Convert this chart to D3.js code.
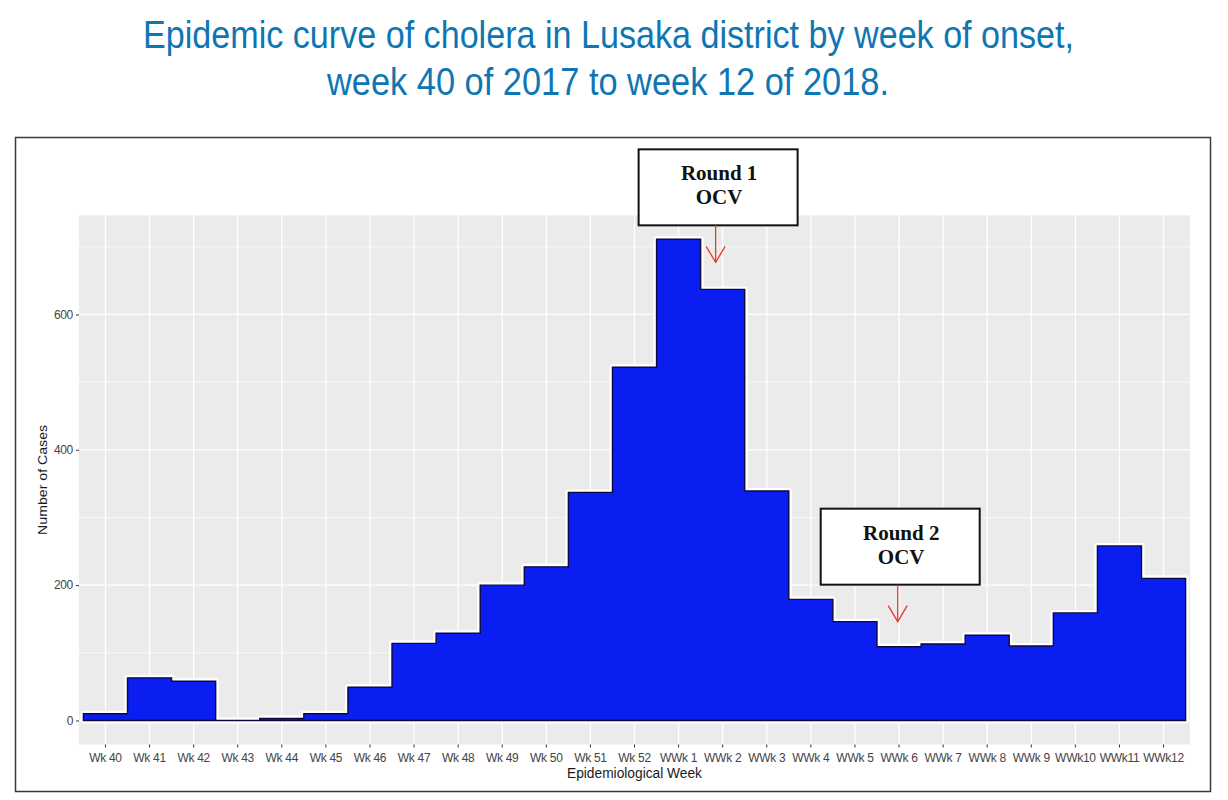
<!DOCTYPE html>
<html>
<head>
<meta charset="utf-8">
<script src="https://cdn.jsdelivr.net/npm/d3@7/dist/d3.min.js"></script>
<style>
  html, body { margin: 0; padding: 0; background: #ffffff; }
  svg { display: block; }
</style>
</head>
<body>
<svg id="chart" width="1228" height="800"></svg>
<script>
// ---------------- DATA ----------------
const titleLines = [
  "Epidemic curve of cholera in Lusaka district by week of onset,",
  "week 40 of 2017 to week 12 of 2018."
];
const weeks = [
  "Wk 40","Wk 41","Wk 42","Wk 43","Wk 44","Wk 45","Wk 46","Wk 47","Wk 48",
  "Wk 49","Wk 50","Wk 51","Wk 52",
  "WWk 1","WWk 2","WWk 3","WWk 4","WWk 5","WWk 6","WWk 7","WWk 8","WWk 9",
  "WWk10","WWk11","WWk12"
];
const cases = [
  10, 63, 58, 0, 3, 10, 49, 114, 129,
  200, 227, 337, 522,
  711, 637, 339, 179, 146, 109, 113, 126, 110,
  159, 258, 210
];
const yTicks = [0, 200, 400, 600];
const yMinorTicks = [100, 300, 500, 700];
const xAxisTitle = "Epidemiological Week";
const yAxisTitle = "Number of Cases";
// annotations: label lines, week position (fractional index), arrow tip value
const annoLabels = [["Round 1", "OCV"], ["Round 2", "OCV"]];
const annoWeekPos = [13.84, 17.97];
const annoTipValue = [677, 146];

// ---------------- LAYOUT ----------------
const svg = d3.select("#chart");
const panel = { left: 79, right: 1190, top: 215.3, bottom: 744.5 };

// title
const titleColor = "#0e76b3";
const titleFont = "'Liberation Sans', Arial, sans-serif";
const titleSpecs = [ { x: 608.5, y: 48, w: 931 }, { x: 608, y: 95, w: 562 } ];
titleLines.forEach((t, i) => {
  svg.append("text")
    .attr("x", titleSpecs[i].x).attr("y", titleSpecs[i].y)
    .attr("text-anchor", "middle")
    .attr("font-family", titleFont)
    .attr("font-size", 39)
    .attr("fill", titleColor)
    .attr("textLength", titleSpecs[i].w)
    .attr("lengthAdjust", "spacingAndGlyphs")
    .text(t);
});

// outer frame
svg.append("rect")
  .attr("x", 15.5).attr("y", 137.5)
  .attr("width", 1195).attr("height", 654)
  .attr("fill", "#ffffff")
  .attr("stroke", "#3a3a3a").attr("stroke-width", 1.5);

// scales
const x = d3.scaleBand()
  .domain(weeks)
  .range([panel.left, panel.right])
  .paddingInner(0)
  .paddingOuter(0.1);
const xPos = i => panel.left + (0.6 + i) * x.step(); // fractional category center
const y = d3.scaleLinear()
  .domain([-35.5, 746.5])
  .range([panel.bottom, panel.top]);

// panel background
svg.append("rect")
  .attr("x", panel.left).attr("y", panel.top)
  .attr("width", panel.right - panel.left)
  .attr("height", panel.bottom - panel.top)
  .attr("fill", "#ebebeb");

// grid lines
const grid = svg.append("g");
grid.selectAll("line.minor").data(yMinorTicks).enter().append("line")
  .attr("x1", panel.left).attr("x2", panel.right)
  .attr("y1", d => y(d)).attr("y2", d => y(d))
  .attr("stroke", "#ffffff").attr("stroke-width", 0.7);
grid.selectAll("line.majory").data(yTicks).enter().append("line")
  .attr("x1", panel.left).attr("x2", panel.right)
  .attr("y1", d => y(d)).attr("y2", d => y(d))
  .attr("stroke", "#ffffff").attr("stroke-width", 1.3);
grid.selectAll("line.majorx").data(weeks).enter().append("line")
  .attr("x1", d => x(d) + x.bandwidth() / 2).attr("x2", d => x(d) + x.bandwidth() / 2)
  .attr("y1", panel.top).attr("y2", panel.bottom)
  .attr("stroke", "#ffffff").attr("stroke-width", 1.3);

// epidemic curve as a single stepped area (bars merged, outline only on the envelope)
const stepPts = [];
weeks.forEach((w, i) => {
  stepPts.push({ px: x(w), v: cases[i] });
  stepPts.push({ px: x(w) + x.bandwidth(), v: cases[i] });
});
const area = d3.area()
  .x(d => d.px)
  .y0(y(0))
  .y1(d => y(d.v));
svg.append("path")
  .datum(stepPts)
  .attr("d", area)
  .attr("fill", "#ffffff")
  .attr("stroke", "#ffffff").attr("stroke-width", 6)
  .attr("stroke-linejoin", "round");
svg.append("path")
  .datum(stepPts)
  .attr("d", area)
  .attr("fill", "#0a1ef2")
  .attr("stroke", "#0a0a40").attr("stroke-width", 1.4)
  .attr("stroke-linejoin", "miter");

// axes
const axisColor = "#333333";
const tickTextColor = "#444444";
const tickFont = "'Liberation Sans', Arial, sans-serif";

const xAxis = svg.append("g")
  .attr("transform", `translate(0,${panel.bottom})`)
  .call(d3.axisBottom(x).tickSize(3).tickPadding(6));
xAxis.select(".domain").remove();
xAxis.selectAll(".tick line").attr("stroke", axisColor).attr("stroke-width", 1);
xAxis.selectAll(".tick text")
  .attr("font-family", tickFont).attr("font-size", 12)
  .attr("letter-spacing", -0.3)
  .attr("fill", tickTextColor);

const yAxis = svg.append("g")
  .attr("transform", `translate(${panel.left},0)`)
  .call(d3.axisLeft(y).tickValues(yTicks).tickSize(3).tickPadding(3));
yAxis.select(".domain").remove();
yAxis.selectAll(".tick line").attr("stroke", axisColor).attr("stroke-width", 1);
yAxis.selectAll(".tick text")
  .attr("font-family", tickFont).attr("font-size", 12)
  .attr("letter-spacing", -0.3)
  .attr("fill", tickTextColor);

// axis titles
svg.append("text")
  .attr("x", (panel.left + panel.right) / 2).attr("y", 778)
  .attr("text-anchor", "middle")
  .attr("font-family", tickFont).attr("font-size", 14)
  .attr("fill", "#1a1a1a")
  .attr("textLength", 135).attr("lengthAdjust", "spacingAndGlyphs")
  .text(xAxisTitle);
svg.append("text")
  .attr("transform", `translate(47,${(panel.top + panel.bottom) / 2}) rotate(-90)`)
  .attr("text-anchor", "middle")
  .attr("font-family", tickFont).attr("font-size", 13.5)
  .attr("fill", "#1a1a1a")
  .attr("textLength", 110).attr("lengthAdjust", "spacingAndGlyphs")
  .text(yAxisTitle);

// annotations
const boxW = 159, boxH = 76, arrowLen = 37, headLen = 16, headHalf = 9.5;
const arrowColor = "#e8392a";
annoLabels.forEach((lines, i) => {
  const tipX = xPos(annoWeekPos[i]);
  const tipY = y(annoTipValue[i]);
  const g = svg.append("g");
  const boxBottom = tipY - arrowLen;
  const boxX = tipX - 77;
  g.append("rect")
    .attr("x", boxX).attr("y", boxBottom - boxH)
    .attr("width", boxW).attr("height", boxH)
    .attr("fill", "#ffffff")
    .attr("stroke", "#111111").attr("stroke-width", 2);
  lines.forEach((t, j) => {
    g.append("text")
      .attr("x", boxX + boxW / 2 + 1)
      .attr("y", boxBottom - boxH + 31 + j * 24)
      .attr("text-anchor", "middle")
      .attr("font-family", "'Liberation Serif', 'Times New Roman', serif")
      .attr("font-weight", "bold")
      .attr("font-size", 21)
      .attr("fill", "#111111")
      .text(t);
  });
  g.append("line")
    .attr("x1", tipX).attr("x2", tipX)
    .attr("y1", boxBottom).attr("y2", tipY)
    .attr("stroke", arrowColor).attr("stroke-width", 1.3);
  g.append("path")
    .attr("d", `M${tipX - headHalf},${tipY - headLen} L${tipX},${tipY} L${tipX + headHalf},${tipY - headLen}`)
    .attr("fill", "none")
    .attr("stroke", arrowColor).attr("stroke-width", 1.3);
});
</script>
</body>
</html>
